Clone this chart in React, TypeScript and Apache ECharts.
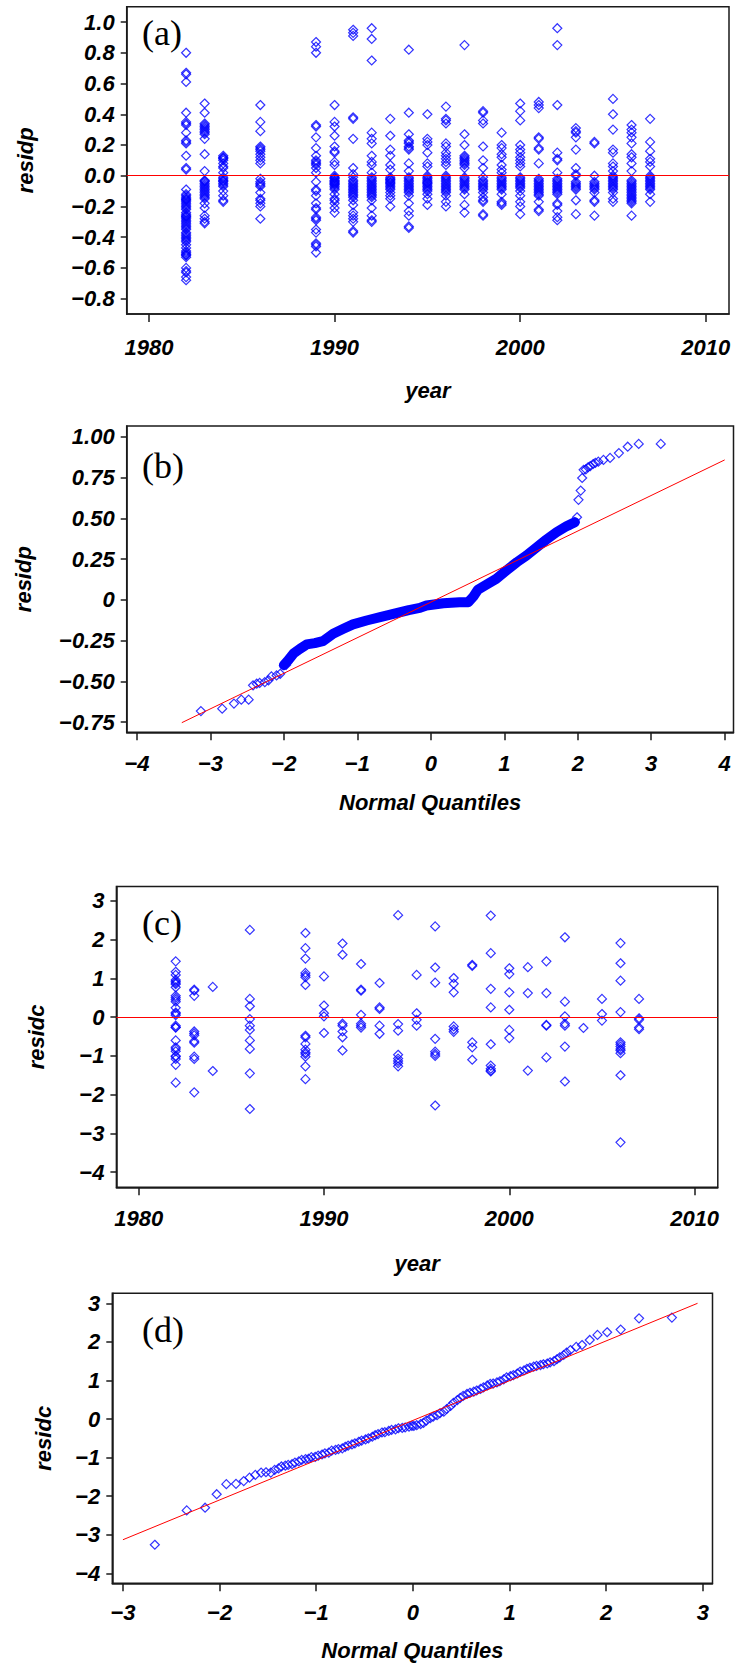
import React, { useEffect, useRef } from "react";
import * as echarts from "echarts";

// ---------- Panel (a) and (c): residuals by year ----------
const years = [1982, 1983, 1984, 1986, 1989, 1990, 1991, 1992, 1993, 1994, 1995, 1996, 1997, 1998, 1999, 2000, 2001, 2002, 2003, 2004, 2005, 2006, 2007];

// residp values, one list per year (same order as `years`)
const residpByYear: number[][] = [
  [0.80, 0.67, 0.66, 0.61, 0.41, 0.35, 0.34, 0.33, 0.28, 0.23, 0.22, 0.21, 0.13, 0.05, 0.04, -0.09, -0.12, -0.13, -0.14, -0.15, -0.155, -0.16, -0.17, -0.18, -0.19, -0.20, -0.21, -0.22, -0.24, -0.25, -0.26, -0.265, -0.27, -0.28, -0.29, -0.30, -0.31, -0.32, -0.33, -0.34, -0.35, -0.37, -0.38, -0.39, -0.40, -0.41, -0.42, -0.43, -0.45, -0.47, -0.49, -0.50, -0.51, -0.515, -0.52, -0.53, -0.60, -0.62, -0.63, -0.66, -0.68],
  [0.47, 0.41, 0.34, 0.33, 0.32, 0.31, 0.30, 0.29, 0.28, 0.27, 0.24, 0.14, 0.03, -0.03, -0.035, -0.04, -0.05, -0.06, -0.07, -0.08, -0.09, -0.10, -0.11, -0.12, -0.13, -0.14, -0.15, -0.18, -0.21, -0.26, -0.28, -0.30, -0.31],
  [0.13, 0.12, 0.115, 0.11, 0.10, 0.08, 0.06, 0.05, 0.02, -0.01, -0.02, -0.03, -0.035, -0.04, -0.05, -0.06, -0.07, -0.10, -0.13, -0.16, -0.17],
  [0.46, 0.35, 0.29, 0.19, 0.18, 0.17, 0.16, 0.14, 0.12, 0.10, 0.08, -0.02, -0.04, -0.05, -0.06, -0.07, -0.11, -0.15, -0.16, -0.18, -0.20, -0.28],
  [0.87, 0.84, 0.80, 0.33, 0.32, 0.25, 0.18, 0.13, 0.10, 0.09, 0.08, 0.07, 0.05, 0.02, -0.04, -0.09, -0.10, -0.13, -0.18, -0.21, -0.22, -0.27, -0.28, -0.29, -0.35, -0.37, -0.44, -0.45, -0.46, -0.50],
  [0.46, 0.35, 0.32, 0.26, 0.19, 0.16, 0.15, 0.09, 0.07, 0.00, -0.01, -0.015, -0.02, -0.03, -0.035, -0.04, -0.045, -0.05, -0.055, -0.06, -0.07, -0.08, -0.09, -0.12, -0.15, -0.16, -0.18, -0.21, -0.24],
  [0.95, 0.93, 0.91, 0.38, 0.37, 0.24, 0.05, 0.01, -0.01, -0.03, -0.04, -0.05, -0.06, -0.07, -0.08, -0.09, -0.10, -0.11, -0.12, -0.13, -0.14, -0.16, -0.19, -0.24, -0.26, -0.28, -0.30, -0.36, -0.37],
  [0.96, 0.89, 0.75, 0.28, 0.24, 0.21, 0.13, 0.09, 0.07, 0.02, -0.01, -0.02, -0.03, -0.04, -0.05, -0.06, -0.07, -0.08, -0.09, -0.10, -0.11, -0.12, -0.13, -0.14, -0.16, -0.21, -0.26, -0.29, -0.30],
  [0.37, 0.26, 0.17, 0.13, 0.07, 0.04, -0.01, -0.02, -0.025, -0.03, -0.04, -0.045, -0.05, -0.06, -0.07, -0.08, -0.09, -0.11, -0.13, -0.15, -0.20],
  [0.82, 0.41, 0.27, 0.23, 0.22, 0.21, 0.19, 0.18, 0.17, 0.08, 0.03, -0.01, -0.02, -0.03, -0.04, -0.05, -0.06, -0.07, -0.08, -0.09, -0.10, -0.11, -0.13, -0.18, -0.23, -0.26, -0.33, -0.34],
  [0.40, 0.24, 0.22, 0.20, 0.15, 0.08, 0.06, 0.00, -0.01, -0.02, -0.03, -0.04, -0.045, -0.05, -0.06, -0.07, -0.08, -0.09, -0.10, -0.12, -0.15, -0.19],
  [0.45, 0.37, 0.36, 0.34, 0.21, 0.19, 0.15, 0.13, 0.11, 0.09, 0.07, 0.00, -0.01, -0.02, -0.03, -0.04, -0.05, -0.06, -0.07, -0.08, -0.09, -0.10, -0.11, -0.13, -0.17, -0.20],
  [0.85, 0.27, 0.20, 0.13, 0.12, 0.11, 0.10, 0.09, 0.08, 0.07, 0.05, -0.01, -0.02, -0.03, -0.04, -0.05, -0.06, -0.07, -0.08, -0.09, -0.12, -0.19, -0.24],
  [0.42, 0.41, 0.36, 0.34, 0.19, 0.10, 0.05, -0.01, -0.03, -0.04, -0.05, -0.06, -0.07, -0.08, -0.09, -0.11, -0.14, -0.16, -0.17, -0.25, -0.26],
  [0.28, 0.20, 0.18, 0.14, 0.12, 0.07, 0.04, 0.02, -0.01, -0.02, -0.03, -0.04, -0.05, -0.06, -0.07, -0.08, -0.09, -0.12, -0.17, -0.18, -0.19],
  [0.47, 0.42, 0.36, 0.20, 0.17, 0.15, 0.12, 0.10, 0.08, 0.06, -0.01, -0.02, -0.03, -0.04, -0.05, -0.06, -0.07, -0.08, -0.10, -0.13, -0.17, -0.20, -0.25],
  [0.48, 0.46, 0.44, 0.25, 0.24, 0.18, 0.17, 0.08, -0.02, -0.03, -0.04, -0.05, -0.06, -0.07, -0.08, -0.09, -0.10, -0.11, -0.12, -0.13, -0.17, -0.22, -0.23],
  [0.96, 0.85, 0.46, 0.15, 0.11, 0.10, 0.02, -0.02, -0.03, -0.04, -0.05, -0.06, -0.07, -0.08, -0.09, -0.10, -0.11, -0.12, -0.18, -0.19, -0.23, -0.27, -0.29],
  [0.31, 0.29, 0.28, 0.25, 0.17, 0.05, 0.01, 0.00, -0.04, -0.05, -0.06, -0.07, -0.08, -0.09, -0.16, -0.25],
  [0.22, 0.21, 0.00, -0.04, -0.05, -0.06, -0.07, -0.08, -0.09, -0.11, -0.16, -0.17, -0.26],
  [0.50, 0.40, 0.30, 0.17, 0.15, 0.08, 0.06, 0.03, 0.00, -0.01, -0.02, -0.03, -0.04, -0.05, -0.06, -0.07, -0.08, -0.09, -0.11, -0.15, -0.17],
  [0.33, 0.30, 0.28, 0.25, 0.21, 0.14, 0.12, 0.08, 0.03, -0.03, -0.04, -0.05, -0.06, -0.07, -0.08, -0.09, -0.10, -0.11, -0.12, -0.13, -0.14, -0.15, -0.16, -0.17, -0.18, -0.26],
  [0.37, 0.22, 0.16, 0.11, 0.09, 0.06, 0.00, -0.01, -0.02, -0.03, -0.04, -0.05, -0.06, -0.07, -0.08, -0.09, -0.12, -0.17],
];

// residc values, one list per year (same order as `years`)
const residcByYear: number[][] = [
  [1.44, 1.17, 1.09, 0.96, 0.92, 0.88, 0.85, 0.77, 0.55, 0.50, 0.45, 0.40, 0.24, 0.12, 0.09, 0.05, -0.22, -0.26, -0.27, -0.60, -0.78, -0.82, -0.88, -1.00, -1.02, -1.08, -1.23, -1.69],
  [0.71, 0.68, 0.55, -0.37, -0.42, -0.47, -0.62, -0.66, -1.02, -1.08, -1.94],
  [0.78, -1.39],
  [2.25, 0.47, 0.28, -0.05, -0.22, -0.33, -0.60, -0.82, -1.45, -2.37],
  [2.17, 1.78, 1.51, 1.14, 1.08, 1.03, 0.83, -0.48, -0.52, -0.69, -0.84, -0.91, -0.95, -1.02, -1.27, -1.60],
  [1.05, 0.30, 0.10, 0.02, -0.41],
  [1.90, 1.61, -0.17, -0.22, -0.37, -0.52, -0.86],
  [1.37, 0.71, 0.68, 0.06, -0.17, -0.22, -0.27],
  [0.88, 0.25, 0.21, -0.22, -0.43],
  [2.63, -0.18, -0.35, -0.97, -1.07, -1.13, -1.19, -1.27],
  [1.09, 0.10, -0.07, -0.22],
  [2.34, 1.28, 0.89, -0.56, -0.89, -0.95, -1.00, -2.28],
  [1.01, 0.86, 0.64, -0.24, -0.32, -0.38],
  [1.35, 1.32, -0.65, -0.78, -1.10],
  [2.62, 1.65, 0.73, 0.25, -0.70, -1.25, -1.33, -1.38, -1.40],
  [1.26, 1.11, 0.64, 0.19, -0.33, -0.54],
  [1.29, 0.62, -1.38],
  [1.44, 0.62, -0.20, -0.22, -1.04],
  [2.06, 0.40, 0.02, -0.17, -0.22, -0.76, -1.66],
  [-0.28],
  [0.47, 0.08, -0.09],
  [1.91, 1.39, 0.94, 0.13, -0.65, -0.70, -0.76, -0.82, -0.86, -0.93, -1.50, -3.23],
  [0.47, -0.03, -0.07, -0.27, -0.31],
];

// ---------- Panel (b): normal QQ plot of residp ----------
// dense band of overlapping points (normal quantile, residp)
const qqBandB: [number, number][] = [
  [-2.00, -0.40], [-1.94, -0.37], [-1.87, -0.33], [-1.78, -0.30], [-1.69, -0.274], [-1.58, -0.266],
  [-1.47, -0.254], [-1.33, -0.208], [-1.19, -0.178], [-1.06, -0.151], [-0.875, -0.127], [-0.69, -0.106],
  [-0.51, -0.086], [-0.30, -0.063], [-0.15, -0.050], [-0.06, -0.035], [0.17, -0.021], [0.39, -0.015],
  [0.51, -0.015], [0.58, 0.02], [0.64, 0.061], [0.76, 0.094], [0.89, 0.128], [1.03, 0.18],
  [1.17, 0.23], [1.30, 0.271], [1.44, 0.322], [1.57, 0.368], [1.71, 0.414], [1.84, 0.449], [1.96, 0.476],
];
// individually visible points in the tails
const qqTailB: [number, number][] = [
  [-3.13, -0.683], [-2.84, -0.668], [-2.68, -0.637], [-2.58, -0.613], [-2.48, -0.613], [-2.42, -0.525],
  [-2.37, -0.515], [-2.33, -0.51], [-2.26, -0.505], [-2.21, -0.494], [-2.17, -0.47], [-2.10, -0.464],
  [-2.05, -0.454], [-2.00, -0.403], [-1.97, -0.40], [-1.94, -0.372],
  [1.90, 0.46], [1.96, 0.476], [1.99, 0.506], [2.01, 0.613], [2.04, 0.67], [2.06, 0.747], [2.08, 0.797],
  [2.11, 0.80], [2.14, 0.813], [2.17, 0.82], [2.21, 0.833], [2.24, 0.84], [2.28, 0.847], [2.35, 0.858],
  [2.44, 0.87], [2.56, 0.90], [2.68, 0.939], [2.83, 0.956], [3.13, 0.956],
];
const refLineB: [number, number][] = [[-3.39, -0.754], [4.0, 0.858]];

// ---------- Panel (d): normal QQ plot of residc ----------
const qqD: [number, number][] = [
  [-2.67, -3.26], [-2.34, -2.37], [-2.15, -2.30], [-2.03, -1.95], [-1.93, -1.69], [-1.83, -1.68],
  [-1.75, -1.61], [-1.69, -1.52], [-1.63, -1.45], [-1.57, -1.39], [-1.52, -1.38], [-1.47, -1.39],
  [-1.43, -1.32], [-1.39, -1.28], [-1.36, -1.23], [-1.32, -1.21], [-1.29, -1.19], [-1.25, -1.17],
  [-1.22, -1.13], [-1.18, -1.10], [-1.15, -1.06], [-1.11, -1.04], [-1.08, -1.03], [-1.05, -0.99],
  [-1.01, -0.98], [-0.98, -0.95], [-0.94, -0.92], [-0.91, -0.89], [-0.87, -0.87], [-0.84, -0.82],
  [-0.80, -0.80], [-0.77, -0.78], [-0.73, -0.76], [-0.70, -0.72], [-0.67, -0.69], [-0.63, -0.66],
  [-0.60, -0.63], [-0.56, -0.59], [-0.53, -0.56], [-0.49, -0.53], [-0.46, -0.50], [-0.42, -0.46],
  [-0.39, -0.42], [-0.36, -0.39], [-0.32, -0.35], [-0.29, -0.34], [-0.25, -0.31], [-0.22, -0.28],
  [-0.18, -0.27], [-0.15, -0.24], [-0.11, -0.23], [-0.08, -0.22], [-0.04, -0.20], [-0.01, -0.18],
  [0.01, -0.18], [0.04, -0.16], [0.08, -0.13], [0.11, -0.10], [0.14, -0.04], [0.18, 0.02],
  [0.21, 0.06], [0.25, 0.10], [0.28, 0.15], [0.32, 0.19], [0.35, 0.26], [0.39, 0.34],
  [0.42, 0.42], [0.46, 0.49], [0.49, 0.55], [0.52, 0.60], [0.56, 0.65], [0.59, 0.68],
  [0.63, 0.71], [0.66, 0.74], [0.70, 0.78], [0.73, 0.82], [0.77, 0.87], [0.80, 0.91],
  [0.83, 0.92], [0.87, 0.95], [0.90, 0.98], [0.94, 1.03], [0.97, 1.08], [1.01, 1.11],
  [1.04, 1.14], [1.08, 1.18], [1.11, 1.23], [1.15, 1.26], [1.18, 1.30], [1.21, 1.33],
  [1.25, 1.36], [1.28, 1.38], [1.32, 1.40], [1.35, 1.42], [1.39, 1.44], [1.42, 1.47],
  [1.46, 1.50], [1.49, 1.55], [1.52, 1.60], [1.56, 1.66], [1.59, 1.72], [1.63, 1.79],
  [1.69, 1.87], [1.75, 1.92], [1.83, 2.05], [1.91, 2.18], [2.01, 2.25], [2.15, 2.32],
  [2.34, 2.61], [2.68, 2.63],
];
const refLineD: [number, number][] = [[-3.0, -3.13], [2.945, 3.0]];

// ---------- Tick labels ----------
const yearTicks = [1980, 1990, 2000, 2010];
const residpTicksA = [-0.8, -0.6, -0.4, -0.2, 0, 0.2, 0.4, 0.6, 0.8, 1.0];
const residpTicksB = [-0.75, -0.5, -0.25, 0, 0.25, 0.5, 0.75, 1.0];
const quantTicksB = [-4, -3, -2, -1, 0, 1, 2, 3, 4];
const residcTicks = [-4, -3, -2, -1, 0, 1, 2, 3];
const quantTicksD = [-3, -2, -1, 0, 1, 2, 3];
const panelLabels = ["(a)", "(b)", "(c)", "(d)"];

const BLUE = "#0000ff";
const RED = "#ff0000";
const FRAME = "#1a1a1a";
const SANS = '"Liberation Sans", Arial, Helvetica, sans-serif';
const SERIF = '"Liberation Serif", "Times New Roman", serif';

const minus = (s: string) => s.replace("-", "\u2212");

const labelStyle = {
  fontFamily: SANS,
  fontSize: 22,
  fontWeight: "bold" as const,
  fontStyle: "italic" as const,
  color: "#000",
};
const nameStyle = {
  fontFamily: SANS,
  fontSize: 22,
  fontWeight: "bold" as const,
  fontStyle: "italic" as const,
  color: "#000",
};

function xAxis(gridIndex: number, min: number, max: number, ticks: number[], fmt: (v: number) => string, name: string, margin: number, nameGap: number) {
  return {
    type: "value",
    gridIndex,
    min,
    max,
    axisLine: { show: true, onZero: false, lineStyle: { color: FRAME, width: 1.5 } },
    axisTick: { show: true, inside: false, length: 8, customValues: ticks, lineStyle: { color: FRAME, width: 1.5 } },
    axisLabel: { ...labelStyle, customValues: ticks, formatter: fmt, margin },
    splitLine: { show: false },
    name,
    nameLocation: "middle",
    nameGap,
    nameTextStyle: nameStyle,
  };
}

function yAxis(gridIndex: number, min: number, max: number, ticks: number[], fmt: (v: number) => string, name: string, nameGap: number) {
  return {
    type: "value",
    gridIndex,
    min,
    max,
    axisLine: { show: true, onZero: false, lineStyle: { color: FRAME, width: 1.5 } },
    axisTick: { show: true, inside: false, length: 6, customValues: ticks, lineStyle: { color: FRAME, width: 1.5 } },
    axisLabel: { ...labelStyle, customValues: ticks, formatter: fmt, margin: 12 },
    splitLine: { show: false },
    name,
    nameLocation: "middle",
    nameRotate: 90,
    nameGap,
    nameTextStyle: nameStyle,
  };
}

const diamond = {
  type: "scatter",
  symbol: "diamond",
  symbolSize: 9,
  itemStyle: { color: "rgba(0,0,0,0)", borderColor: BLUE, borderWidth: 1.2 },
  silent: true,
};

const zeroLine = {
  silent: true,
  symbol: "none",
  label: { show: false },
  lineStyle: { color: RED, width: 1, type: "solid" },
  data: [{ yAxis: 0 }],
};

export default function App() {
  const ref = useRef<HTMLDivElement>(null);

  useEffect(() => {
    if (!ref.current) return;
    const chart = echarts.init(ref.current, undefined, { renderer: "svg" });

    const dataA = years.flatMap((yr, i) => residpByYear[i].map((v) => [yr, v]));
    const dataC = years.flatMap((yr, i) => residcByYear[i].map((v) => [yr, v]));

    const grids = [
      { left: 126.7, top: 6.7, width: 602.3, height: 307.3 },
      { left: 126.7, top: 426, width: 606.8, height: 306.3 },
      { left: 116.4, top: 886.5, width: 601.4, height: 300.8 },
      { left: 112.3, top: 1293.3, width: 600.2, height: 290 },
    ].map((g) => ({ ...g, show: true, borderColor: FRAME, borderWidth: 1.5, backgroundColor: "transparent" }));

    const labelPos = [33, 466, 922.5, 1329.5];

    const option: any = {
      animation: false,
      backgroundColor: "#fff",
      grid: grids,
      xAxis: [
        xAxis(0, 1978.8, 2011.25, yearTicks, (v) => String(v), "year", 22, 65),
        xAxis(1, -4.14, 4.12, quantTicksB, (v) => minus(String(v)), "Normal Quantiles", 20, 59),
        xAxis(2, 1978.8, 2011.25, yearTicks, (v) => String(v), "year", 20, 65),
        xAxis(3, -3.11, 3.1, quantTicksD, (v) => minus(String(v)), "Normal Quantiles", 18.5, 56),
      ],
      yAxis: [
        yAxis(0, -0.9, 1.1, residpTicksA, (v) => minus(v.toFixed(1)), "residp", 90),
        yAxis(1, -0.813, 1.066, residpTicksB, (v) => (v === 0 ? "0" : minus(v.toFixed(2))), "residp", 92),
        yAxis(2, -4.39, 3.37, residcTicks, (v) => minus(String(v)), "residc", 69),
        yAxis(3, -4.26, 3.26, residcTicks, (v) => minus(String(v)), "residc", 58),
      ],
      series: [
        { ...diamond, name: "residp by year", xAxisIndex: 0, yAxisIndex: 0, data: dataA, markLine: zeroLine, z: 2 },
        {
          type: "line",
          name: "residp QQ (dense)",
          xAxisIndex: 1,
          yAxisIndex: 1,
          data: qqBandB,
          showSymbol: false,
          silent: true,
          lineStyle: { color: BLUE, width: 10, cap: "round", join: "round" },
          z: 1,
        },
        { ...diamond, name: "residp QQ", xAxisIndex: 1, yAxisIndex: 1, data: qqTailB, z: 2 },
        {
          type: "line",
          name: "residp reference",
          xAxisIndex: 1,
          yAxisIndex: 1,
          data: refLineB,
          showSymbol: false,
          silent: true,
          lineStyle: { color: RED, width: 1 },
          z: 3,
        },
        { ...diamond, name: "residc by year", xAxisIndex: 2, yAxisIndex: 2, data: dataC, markLine: zeroLine, z: 2 },
        { ...diamond, name: "residc QQ", xAxisIndex: 3, yAxisIndex: 3, data: qqD, z: 2 },
        {
          type: "line",
          name: "residc reference",
          xAxisIndex: 3,
          yAxisIndex: 3,
          data: refLineD,
          showSymbol: false,
          silent: true,
          lineStyle: { color: RED, width: 1 },
          z: 3,
        },
      ],
      graphic: panelLabels.map((t, i) => ({
        type: "text",
        x: 142,
        y: labelPos[i],
        silent: true,
        z: 10,
        style: {
          text: t,
          font: `36px ${SERIF}`,
          fill: "#000",
          align: "left",
          verticalAlign: "middle",
          textAlign: "left",
          textVerticalAlign: "middle",
        },
      })),
    };

    chart.setOption(option);
    return () => chart.dispose();
  }, []);

  return <div ref={ref} style={{ position: "absolute", left: 0, top: 0, width: 736, height: 1665 }} />;
}
